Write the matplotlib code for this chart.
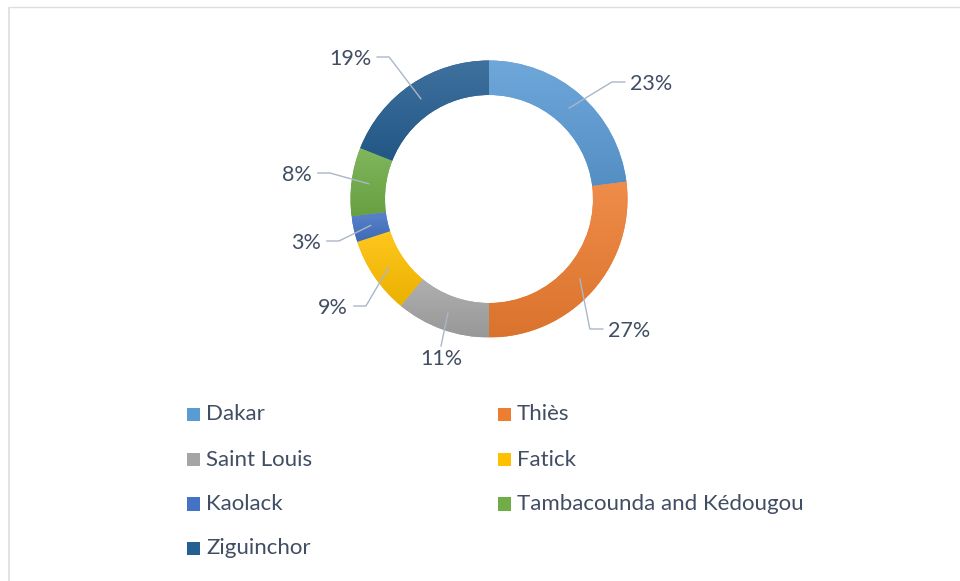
import matplotlib.pyplot as plt
import numpy as np
from matplotlib.colors import LinearSegmentedColormap, to_rgb
from matplotlib.patches import Rectangle

plt.rcParams['font.family'] = ['Lato', 'DejaVu Sans']

# data
regions = ['Dakar', 'Thiès', 'Saint Louis', 'Fatick', 'Kaolack',
           'Tambacounda and Kédougou', 'Ziguinchor']
shares = [23, 27, 11, 9, 3, 8, 19]
colors = ['#5B9BD5', '#ED7D31', '#A5A5A5', '#FFC000', '#4472C4', '#70AD47', '#255E91']

# layout (pixels, y measured from the top)
W, H = 960, 581
label_pos = [(651, 84, 'right'), (629, 331, 'right'), (441, 359, 'below'),
             (333, 308, 'left'), (306, 243, 'left'), (297, 175, 'left'),
             (350, 59, 'left')]
text_color = '#404D63'
line_color = '#AAB7C7'


def py(y):
    return H - y


def mix(c, other, t):
    c = np.array(to_rgb(c))
    return tuple(c + (np.array(other) - c) * t)


fig = plt.figure(figsize=(W / 100, H / 100), dpi=100)
ax = fig.add_axes([0, 0, 1, 1])

cx, cy = 489, py(199)
R, ring = 138.5, 34.5
wedges, _ = ax.pie(shares, colors=colors, startangle=90, counterclock=False,
                   radius=R, center=(cx, cy),
                   wedgeprops=dict(width=ring, linewidth=0))

# office-like vertical gradient inside each segment
grad = np.linspace(0, 1, 256).reshape(-1, 1)
for w, c in zip(wedges, colors):
    ext = w.get_path().get_extents()
    cmap = LinearSegmentedColormap.from_list('g', [mix(c, (1, 1, 1), 0.12),
                                                  mix(c, (0, 0, 0), 0.08)])
    im = ax.imshow(grad, cmap=cmap, extent=[ext.x0, ext.x1, ext.y0, ext.y1],
                   origin='upper', aspect='auto', interpolation='bilinear',
                   zorder=w.get_zorder() + 0.1)
    im.set_clip_path(w)

ax.set_xlim(0, W)
ax.set_ylim(0, H)
ax.set_aspect('auto')
ax.axis('off')

# frame
ax.plot([8.5, 8.5], [py(7), -10], color='#DCE0E5', lw=1.3, solid_capstyle='butt')
ax.plot([8.5, W + 10], [py(7), py(7)], color='#DCE0E5', lw=1.0, solid_capstyle='butt')

# data labels with leader lines
texts = []
for s, (x, y, side) in zip(shares, label_pos):
    t = ax.text(x, py(y), f"{s}%", ha='center', va='center',
                fontsize=15.5, color=text_color)
    texts.append(t)

fig.canvas.draw()
rend = fig.canvas.get_renderer()
rm = R - ring / 2
for w, t, (x, y, side) in zip(wedges, texts, label_pos):
    th = np.deg2rad((w.theta1 + w.theta2) / 2)
    ax_, ay_ = cx + rm * np.cos(th), cy + rm * np.sin(th)
    bb = t.get_window_extent(rend)
    ly = py(y) + 2
    if side == 'right':
        end = (bb.x0 - 5, ly)
        elbow = (end[0] - 13, ly)
    elif side == 'left':
        end = (bb.x1 + 6, ly)
        elbow = (end[0] + 12, ly)
    else:
        end = (x, bb.y1 + 3)
        elbow = end
    ax.plot([ax_, elbow[0], end[0]], [ay_, elbow[1], end[1]],
            color=line_color, lw=1.0, zorder=5)

# legend, two columns
col_x = [186.5, 497.5]
row_y = [414.5, 459.5, 504, 548.5]
sq = 13.5
for i, (name, c) in enumerate(zip(regions, colors)):
    x = col_x[i % 2]
    y = row_y[i // 2]
    ax.add_patch(Rectangle((x, py(y) - sq / 2), sq, sq, facecolor=c, edgecolor='none'))
    ax.text(x + sq + 6, py(y), name, ha='left', va='center', fontsize=16,
            color=text_color)

fig.savefig('out.png', dpi=100)
